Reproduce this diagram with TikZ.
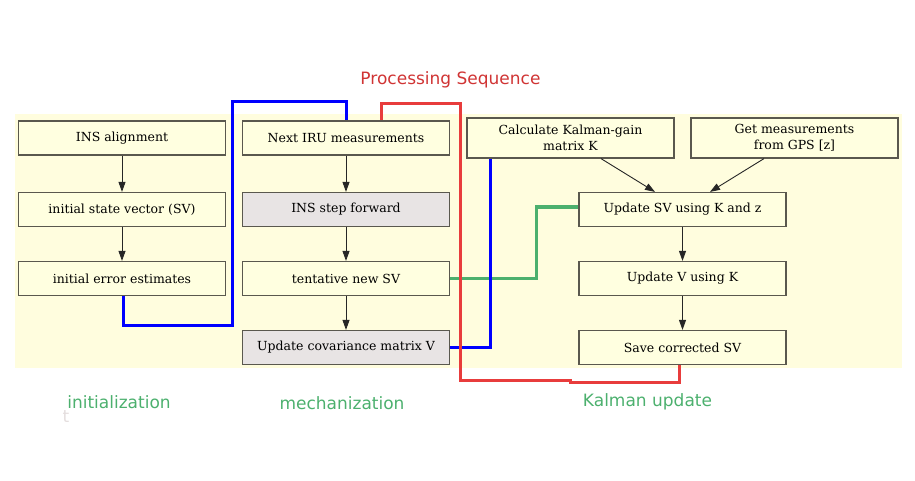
\documentclass[tikz,border=0pt]{standalone}
\usepackage{fontspec}
\setmainfont{DejaVu Serif}
\newfontfamily\labfont{DejaVu Sans}
\usetikzlibrary{arrows.meta,calc}
\definecolor{bgyellow}{RGB}{255,253,222}
\definecolor{boxyellow}{RGB}{255,255,224}
\definecolor{boxgray}{RGB}{232,228,228}
\definecolor{boxborder}{RGB}{90,88,78}
\definecolor{seqred}{RGB}{232,60,60}
\definecolor{titlered}{RGB}{208,52,52}
\definecolor{labgreen}{RGB}{76,176,110}
\definecolor{pathblue}{RGB}{0,0,255}
\definecolor{faint}{RGB}{228,222,222}
\tikzset{
  stepbox/.style={draw=boxborder, line width=1.2pt, fill=boxyellow, minimum width=207pt, minimum height=34pt, inner sep=0pt, font=\fontsize{12.5}{16}\selectfont, align=center},
  graybox/.style={stepbox, fill=boxgray},
  tallbox/.style={stepbox, minimum height=40pt},
  flow/.style={draw=black!85, line width=0.9pt, -{Triangle[length=10pt,width=7pt]}},
  seqline/.style={line width=3pt},
  lab/.style={font=\labfont\fontsize{17}{20}\selectfont, anchor=base, inner sep=0pt}
}
\begin{document}
\begin{tikzpicture}[x=1pt,y=-1pt]
\useasboundingbox (0,0) rectangle (915,481);
\fill[bgyellow] (15,114) rectangle (902,368);

% nodes
\node[stepbox] (align) at (122,138) {INS alignment};
\node[stepbox] (initsv) at (122,209.5) {initial state vector (SV)};
\node[stepbox] (initerr) at (122,278.5) {initial error estimates};
\node[stepbox] (nextiru) at (346,138) {Next IRU measurements};
\node[graybox] (insstep) at (346,209.5) {INS step forward};
\node[stepbox] (tent) at (346,278.5) {tentative new SV};
\node[graybox] (updcov) at (346,347.5) {Update covariance matrix V};
\node[tallbox] (calck) at (570.5,138) {Calculate Kalman-gain\\matrix K};
\node[tallbox] (gps) at (794.5,138) {Get measurements\\from GPS [z]};
\node[stepbox] (updsv) at (682.5,209.5) {Update SV using K and z};
\node[stepbox] (updv) at (682.5,278.5) {Update V using K};
\node[stepbox] (save) at (682.5,347.5) {Save corrected SV};

% flow arrows
\draw[flow] (align) -- (initsv);
\draw[flow] (initsv) -- (initerr);
\draw[flow] (nextiru) -- (insstep);
\draw[flow] (insstep) -- (tent);
\draw[flow] (tent) -- (updcov);
\draw[flow] ($(calck.south)+(30.5,0)$) -- ($(updsv.north)+(-27.5,0)$);
\draw[flow] ($(gps.south)+(-30.5,0)$) -- ($(updsv.north)+(27.5,0)$);
\draw[flow] (updsv) -- (updv);
\draw[flow] (updv) -- (save);

% processing sequence lines
\coordinate (bx) at (490,0);
\coordinate (gx) at (536,0);
\coordinate (rx) at (460.5,0);
\draw[labgreen, seqline] (tent.east) -| (gx |- 0,207) -- ($(updsv.west)+(0,-2.5)$);
\draw[pathblue, seqline] ($(initerr.south)+(1,0)$) -- ++(0,29) -| (232,101.5) -| (nextiru.north);
\draw[pathblue, seqline] (updcov.east) -| (bx |- calck.south);
\draw[seqred, seqline] ($(nextiru.north)+(35,0)$) |- (rx |- 0,104) -- (460.5,380.5) -- (570,380.5) -- (570,382) -| ($(save.south)+(-3.5,0)$);

% labels
\node[lab, text=titlered] (title) at (450.5,85) {Processing Sequence};
\node[lab, text=labgreen] (linit) at (119,408) {initialization};
\node[lab, text=labgreen] (lmech) at (342,409) {mechanization};
\node[lab, text=labgreen] (lkal) at (647.5,406) {Kalman update};
\node[lab, text=faint] (lt) at (66,422) {t};
\end{tikzpicture}
\end{document}
